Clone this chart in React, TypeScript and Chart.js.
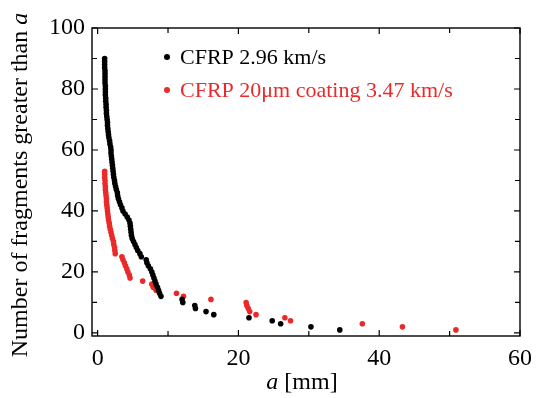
import React, { useEffect, useRef } from "react";
import { Chart, registerables } from "chart.js";
Chart.register(...registerables);

// CFRP 2.96 km/s : fragment size a [mm] and count N (N = 90 .. 1)
const blackA = [
  1.0, 1.0, 1.0, 1.0, 1.05, 1.05, 1.05, 1.05, 1.05, 1.1,
  1.1, 1.1, 1.1, 1.15, 1.15, 1.2, 1.2, 1.25, 1.25, 1.3,
  1.35, 1.4, 1.4, 1.45, 1.5, 1.55, 1.6, 1.7, 1.75, 1.85,
  1.9, 1.9, 1.95, 2.0, 2.05, 2.1, 2.15, 2.2, 2.25, 2.3,
  2.4, 2.45, 2.55, 2.65, 2.8, 2.85, 2.95, 3.1, 3.25, 3.45,
  3.6, 3.9, 4.2, 4.45, 4.6, 4.65, 4.7, 4.75, 4.8, 4.9,
  5.1, 5.3, 5.5, 5.7, 6.0, 6.2, 6.9, 7.0, 7.2, 7.5,
  7.7, 7.85, 8.0, 8.15, 8.3, 8.5, 8.65, 8.8, 9.0, 12.0,
  12.1, 13.8, 13.9, 15.4, 16.5, 21.5, 24.8, 26.0, 30.3, 34.4,
];
const blackN = [
  90, 89, 88, 87, 86, 85, 84, 83, 82, 81,
  80, 79, 78, 77, 76, 75, 74, 73, 72, 71,
  70, 69, 68, 67, 66, 65, 64, 63, 62, 61,
  60, 59, 58, 57, 56, 55, 54, 53, 52, 51,
  50, 49, 48, 47, 46, 45, 44, 43, 42, 41,
  40, 39, 38, 37, 36, 35, 34, 33, 32, 31,
  30, 29, 28, 27, 26, 25, 24, 23, 22, 21,
  20, 19, 18, 17, 16, 15, 14, 13, 12, 11,
  10, 9, 8, 7, 6, 5, 4, 3, 2, 1,
];

// CFRP 20μm coating 3.47 km/s (N = 53 .. 1)
const redA = [
  1.0, 1.0, 1.0, 1.05, 1.05, 1.1, 1.1, 1.15, 1.2, 1.25,
  1.25, 1.3, 1.35, 1.4, 1.45, 1.5, 1.55, 1.65, 1.7, 1.8,
  1.9, 2.0, 2.1, 2.25, 2.3, 2.4, 2.45, 2.5, 3.45, 3.6,
  3.8, 3.95, 4.15, 4.3, 4.5, 4.6, 6.4, 7.7, 7.9, 8.3,
  11.2, 12.2, 16.1, 21.1, 21.2, 21.4, 21.6, 22.5, 26.6, 27.4,
  37.6, 43.3, 50.9,
];
const redN = [
  53, 52, 51, 50, 49, 48, 47, 46, 45, 44,
  43, 42, 41, 40, 39, 38, 37, 36, 35, 34,
  33, 32, 31, 30, 29, 28, 27, 26, 25, 24,
  23, 22, 21, 20, 19, 18, 17, 16, 15, 14,
  13, 12, 11, 10, 9, 8, 7, 6, 5, 4,
  3, 2, 1,
];

const xMajorTicks = [0, 20, 40, 60];
const xMinorTicks = [10, 30, 50];
const yMajorTicks = [0, 20, 40, 60, 80, 100];
const yMinorTicks = [10, 30, 50, 70, 90];
const seriesLabels = ["CFRP 2.96 km/s", "CFRP 20μm coating 3.47 km/s"];
const seriesColors = ["#000000", "#ea2a2a"];
const yTitleMain = "Number of fragments greater than ";
const yTitleItalic = "a";
const xTitleItalic = "a";
const xTitleMain = " [mm]";

const FONT = '"Liberation Serif", "Times New Roman", serif';

const decorPlugin = {
  id: "decor",
  beforeDatasetsDraw(chart: any) {
    const { ctx, chartArea: a, scales } = chart;
    const xs = scales.x;
    const ys = scales.y;
    ctx.save();
    ctx.strokeStyle = "#000";
    ctx.lineWidth = 1.4;
    ctx.strokeRect(a.left, a.top, a.right - a.left, a.bottom - a.top);
    ctx.lineWidth = 1.2;
    const drawX = (v: number, len: number) => {
      const px = xs.getPixelForValue(v);
      ctx.beginPath();
      ctx.moveTo(px, a.bottom);
      ctx.lineTo(px, a.bottom - len);
      ctx.moveTo(px, a.top);
      ctx.lineTo(px, a.top + len);
      ctx.stroke();
    };
    const drawY = (v: number, len: number) => {
      const py = ys.getPixelForValue(v);
      ctx.beginPath();
      ctx.moveTo(a.left, py);
      ctx.lineTo(a.left + len, py);
      ctx.moveTo(a.right, py);
      ctx.lineTo(a.right - len, py);
      ctx.stroke();
    };
    xMajorTicks.forEach((v) => drawX(v, 6));
    xMinorTicks.forEach((v) => drawX(v, 5));
    yMajorTicks.forEach((v) => drawY(v, 6));
    yMinorTicks.forEach((v) => drawY(v, 5));
    ctx.restore();
  },
  afterDraw(chart: any) {
    const { ctx, chartArea: a } = chart;
    ctx.save();
    ctx.fillStyle = "#000";
    ctx.textBaseline = "middle";
    // y title
    ctx.save();
    ctx.translate(21, (a.top + a.bottom) / 2 + 3);
    ctx.rotate(-Math.PI / 2);
    ctx.font = `24px ${FONT}`;
    const w1 = ctx.measureText(yTitleMain).width;
    ctx.font = `italic 24px ${FONT}`;
    const w2 = ctx.measureText(yTitleItalic).width;
    const sx = -(w1 + w2) / 2;
    ctx.font = `24px ${FONT}`;
    ctx.textAlign = "left";
    ctx.fillText(yTitleMain, sx, 0);
    ctx.font = `italic 24px ${FONT}`;
    ctx.fillText(yTitleItalic, sx + w1, 0);
    ctx.restore();
    // x title
    ctx.font = `italic 24px ${FONT}`;
    const xw1 = ctx.measureText(xTitleItalic).width;
    ctx.font = `24px ${FONT}`;
    const xw2 = ctx.measureText(xTitleMain).width;
    const cx = (a.left + a.right) / 2 - 4;
    const tx = cx - (xw1 + xw2) / 2;
    ctx.textAlign = "left";
    ctx.font = `italic 24px ${FONT}`;
    ctx.fillText(xTitleItalic, tx, 383);
    ctx.font = `24px ${FONT}`;
    ctx.fillText(xTitleMain, tx + xw1, 383);
    // legend
    const rows = [57, 90];
    rows.forEach((y, i) => {
      ctx.fillStyle = seriesColors[i];
      ctx.beginPath();
      ctx.arc(167, y, 3, 0, Math.PI * 2);
      ctx.fill();
      ctx.font = `22px ${FONT}`;
      ctx.fillText(seriesLabels[i], 180, y + 1);
    });
    ctx.restore();
  },
};

export default function App() {
  const ref = useRef<HTMLCanvasElement | null>(null);
  useEffect(() => {
    document.body.style.margin = "0";
    const canvas = ref.current;
    if (!canvas) return;
    const chart = new Chart(canvas, {
      type: "scatter",
      data: {
        datasets: [
          {
            label: seriesLabels[0],
            data: blackA.map((x, i) => ({ x, y: blackN[i] })),
            backgroundColor: seriesColors[0],
            borderWidth: 0,
            pointRadius: 2.8,
          },
          {
            label: seriesLabels[1],
            data: redA.map((x, i) => ({ x, y: redN[i] })),
            backgroundColor: seriesColors[1],
            borderWidth: 0,
            pointRadius: 2.8,
          },
        ],
      },
      options: {
        animation: false,
        responsive: false,
        devicePixelRatio: 1,
        layout: { padding: { left: 0, right: 13, top: 28, bottom: 0 } },
        plugins: { legend: { display: false }, tooltip: { enabled: false } },
        scales: {
          x: {
            type: "linear",
            min: -0.8,
            max: 60,
            grid: { display: false, drawTicks: false },
            border: { display: false },
            afterBuildTicks: (s: any) => {
              s.ticks = xMajorTicks.map((v) => ({ value: v }));
            },
            afterFit: (s: any) => {
              s.height = 62;
            },
            ticks: {
              padding: 8,
              color: "#000",
              font: { family: FONT, size: 24 },
              maxRotation: 0,
              autoSkip: false,
            },
          },
          y: {
            type: "linear",
            min: -1,
            max: 100,
            grid: { display: false, drawTicks: false },
            border: { display: false },
            afterBuildTicks: (s: any) => {
              s.ticks = yMajorTicks.map((v) => ({ value: v }));
            },
            afterFit: (s: any) => {
              s.width = 92;
            },
            ticks: {
              padding: 7,
              color: "#000",
              font: { family: FONT, size: 24 },
              autoSkip: false,
            },
          },
        },
      },
      plugins: [decorPlugin],
    } as any);
    return () => chart.destroy();
  }, []);
  return (
    <div style={{ width: 540, height: 398 }}>
      <canvas ref={ref} width={540} height={398} style={{ display: "block" }} />
    </div>
  );
}
